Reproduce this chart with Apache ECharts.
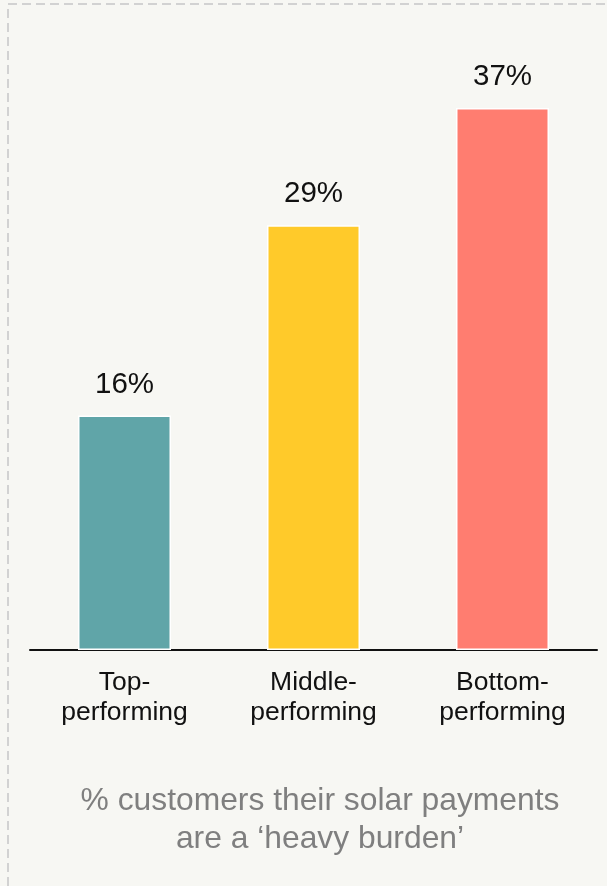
<!DOCTYPE html>
<html>
<head>
<meta charset="utf-8">
<script src="https://cdn.jsdelivr.net/npm/echarts@6/dist/echarts.min.js"></script>
<style>
  html, body { margin: 0; padding: 0; background: #f7f7f3; }
  #chart { width: 607px; height: 886px; }
</style>
</head>
<body>
<div id="chart"></div>
<script>
// Share of customers who say their solar payments are a heavy burden, by performance group
const categories = ['Top-\nperforming', 'Middle-\nperforming', 'Bottom-\nperforming'];
const values = [16, 29, 37];
const barColors = ['#60a5a8', '#ffca2a', '#ff7d70'];
const captionLines = ['% customers their solar payments', 'are a \u2018heavy burden\u2019'];

const FONT = '"Liberation Sans", Arial, Helvetica, sans-serif';

const chart = echarts.init(document.getElementById('chart'), null, { renderer: 'canvas' });

chart.setOption({
  backgroundColor: '#f7f7f3',
  animation: false,
  grid: { left: 30, right: 10, top: 64, bottom: 236 },
  xAxis: {
    type: 'category',
    data: categories,
    axisLine: { show: true, lineStyle: { color: '#111111', width: 2 } },
    axisTick: { show: false },
    axisLabel: {
      color: '#111111',
      fontFamily: FONT,
      fontSize: 26.5,
      lineHeight: 30,
      margin: 18,
      interval: 0
    }
  },
  yAxis: {
    type: 'value',
    min: 0,
    max: 40,
    show: false,
    splitLine: { show: false }
  },
  series: [{
    type: 'bar',
    data: values.map((v, i) => ({ value: v, itemStyle: { color: barColors[i] } })),
    barWidth: 93,
    itemStyle: { borderColor: '#ffffff', borderWidth: 1.5 },
    label: {
      show: true,
      position: 'top',
      distance: 16,
      color: '#111111',
      fontFamily: FONT,
      fontSize: 29.5,
      formatter: p => p.value + '%'
    }
  }],
  graphic: [
    {
      type: 'polyline',
      silent: true,
      shape: { points: [[8, 886], [8, 4], [607, 4]] },
      style: { stroke: '#d2d2d2', lineWidth: 2, lineDash: [9, 5], fill: null }
    },
    {
      type: 'text',
      x: 320,
      y: 782,
      style: {
        text: captionLines.join('\n'),
        fill: '#7f7f7f',
        fontFamily: FONT,
        fontSize: 31.8,
        lineHeight: 38,
        textAlign: 'center',
        textVerticalAlign: 'top'
      }
    }
  ]
});
</script>
</body>
</html>
